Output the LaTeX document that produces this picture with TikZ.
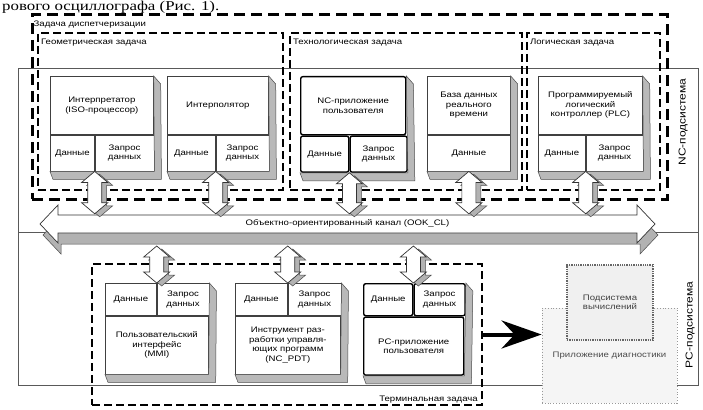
\documentclass[tikz,border=0pt]{standalone}
\usepackage{fontspec}
\setmainfont{Liberation Sans}[FakeStretch=1.2]
\newfontfamily\textserif{Liberation Serif}[FakeStretch=1.25]
\usetikzlibrary{arrows.meta,calc}

\newcommand{\boxfont}{\fontsize{8}{9.5}\selectfont}

% 3D depth under/right of a component box
\newcommand{\boxdepth}[3]{%
  \filldraw[depth] (#1.north east) -- ++(7,8) -- ([shift={(7,8)}]#3.south east)
    -- ([shift={(3,8)}]#2.south west) -- (#2.south west) -- (#3.south east) -- cycle;}

% double block arrow between a box and the channel
\newcommand{\vlink}[2]{%
  \filldraw[linkshade] let \p1=(#1), \p2=(#2) in
    (\x1+5pt,\y1-3pt) -- (\x1+18pt,\y1-14pt) -- (\x1+12pt,\y1-14pt) -- (\x1+12pt,\y2+8pt)
    -- (\x1+18pt,\y2+8pt) -- (\x1+5pt,\y2-3pt) -- (\x1-8pt,\y2+8pt) -- (\x1-2pt,\y2+8pt)
    -- (\x1-2pt,\y1-14pt) -- (\x1-8pt,\y1-14pt) -- cycle;
  \filldraw[linkface] let \p1=(#1), \p2=(#2) in
    (\x1,\y1) -- (\x1+13pt,\y1-11pt) -- (\x1+7pt,\y1-11pt) -- (\x1+7pt,\y2+11pt)
    -- (\x1+13pt,\y2+11pt) -- (\x1,\y2) -- (\x1-13pt,\y2+11pt) -- (\x1-7pt,\y2+11pt)
    -- (\x1-7pt,\y1-11pt) -- (\x1-13pt,\y1-11pt) -- cycle;}

\tikzset{
  dispatch/.style={draw, line width=3pt, dash pattern=on 11pt off 6pt},
  task/.style={draw, line width=2.2pt, dash pattern=on 8pt off 4pt},
  panel/.style={draw=black!65, line width=0.8pt, fill=white},
  face/.style={draw=black!75, line width=0.7pt, fill=white, align=center,
    inner sep=1pt, font=\boxfont, anchor=north west},
  appface/.style={face, draw=black, line width=1.4pt, rounded corners=2pt},
  depth/.style={fill=gray!55, draw=black!70, line width=0.5pt},
  tasklabel/.style={font=\boxfont, anchor=west, inner sep=1pt},
  sidelabel/.style={font=\fontsize{10}{12}\selectfont, rotate=90},
  linkshade/.style={fill=gray!60, draw=black!70, line width=0.5pt},
  linkface/.style={fill=white, draw=black!80, line width=0.7pt},
}

\begin{document}
\begin{tikzpicture}[x=1pt,y=-1pt]
\useasboundingbox (0,0) rectangle (703,409);
\node[font=\textserif\fontsize{13.5}{15}\selectfont, anchor=base west, inner sep=0pt] (caption) at (2,11) {рового осциллографа (Рис. 1).};

% subsystems
\draw[panel] (18,68) rectangle (698,232);
\draw[panel] (18,232) rectangle (698,385);
\node[sidelabel] (nclbl) at (683,122) {NC-подсистема};
\node[sidelabel] (pclbl) at (690,325) {PC-подсистема};

% tasks
\node[dispatch, minimum width=635pt, minimum height=184pt] (disp) at (349.5,107) {};
\node[task, minimum width=245pt, minimum height=157pt] (geom) at (160.5,111.5) {};
\node[task, minimum width=232pt, minimum height=157pt] (tech) at (406,111.5) {};
\node[task, minimum width=133pt, minimum height=157pt] (logic) at (593.5,111.5) {};
\node[tasklabel] (displbl) at ([shift={(2,11)}]disp.north west) {Задача диспетчеризации};
\node[tasklabel] (geomlbl) at ([shift={(3,11)}]geom.north west) {Геометрическая задача};
\node[tasklabel] (techlbl) at ([shift={(3,11)}]tech.north west) {Технологическая задача};
\node[tasklabel] (logiclbl) at ([shift={(3,11)}]logic.north west) {Логическая задача};

% NC components
\node[face, minimum width=103pt, minimum height=58pt] (interp) at (50,76) {Интерпретатор\\(ISO-процессор)};
\node[face, minimum width=44pt, minimum height=36pt] (interpD) at (interp.south west) {Данные};
\node[face, minimum width=59pt, minimum height=36pt] (interpQ) at (interpD.north east) {Запрос\\данных};
\boxdepth{interp}{interpD}{interpQ}

\node[face, minimum width=101pt, minimum height=58pt] (ipol) at (167,76) {Интерполятор};
\node[face, minimum width=48pt, minimum height=36pt] (ipolD) at (ipol.south west) {Данные};
\node[face, minimum width=53pt, minimum height=36pt] (ipolQ) at (ipolD.north east) {Запрос\\данных};
\boxdepth{ipol}{ipolD}{ipolQ}

\node[appface, minimum width=105pt, minimum height=58pt] (ncapp) at (300,76) {NC-приложение\\пользователя};
\node[appface, minimum width=48pt, minimum height=36pt] (ncappD) at (ncapp.south west) {Данные};
\node[appface, minimum width=57pt, minimum height=36pt] (ncappQ) at (ncappD.north east) {Запрос\\данных};
\boxdepth{ncapp}{ncappD}{ncappQ}

\node[face, minimum width=83pt, minimum height=58pt] (rtdb) at (427,76) {База данных\\реального\\времени};
\node[face, minimum width=83pt, minimum height=36pt] (rtdbD) at (rtdb.south west) {Данные};
\boxdepth{rtdb}{rtdbD}{rtdbD}

\node[face, minimum width=104pt, minimum height=58pt] (plc) at (538,76) {Программируемый\\логический\\контроллер (PLC)};
\node[face, minimum width=47pt, minimum height=36pt] (plcD) at (plc.south west) {Данные};
\node[face, minimum width=57pt, minimum height=36pt] (plcQ) at (plcD.north east) {Запрос\\данных};
\boxdepth{plc}{plcD}{plcQ}

% channel
\filldraw[fill=gray!60, draw=black!70, line width=0.5pt] (43,235) -- (61,216) -- (61,226) -- (640,226) -- (640,216)
  -- (658,235) -- (640,254) -- (640,244) -- (61,244) -- (61,254) -- cycle;
\filldraw[fill=white, draw=black!80, line width=0.7pt] (40,224) -- (58,205) -- (58,215) -- (637,215) -- (637,205)
  -- (655,224) -- (637,243) -- (637,233) -- (58,233) -- (58,243) -- cycle;
\node[font=\boxfont, minimum width=579pt, minimum height=18pt, inner sep=0pt] (bus) at (347.5,223) {Объектно-ориентированный канал (OOK\_CL)};
\coordinate (busfoot) at (347.5,246);

\vlink{interpQ.south west}{interpQ.south west |- bus.north}
\vlink{ipolQ.south west}{ipolQ.south west |- bus.north}
\vlink{ncappQ.south west}{ncappQ.south west |- bus.north}
\vlink{rtdbD.south}{rtdbD.south |- bus.north}
\vlink{plcQ.south west}{plcQ.south west |- bus.north}

% terminal task
\node[task, line width=2pt, minimum width=390pt, minimum height=141pt] (term) at (287,334.5) {};
\node[font=\boxfont, anchor=south east, inner sep=1pt] (termlbl) at ([shift={(-4,-2)}]term.south east) {Терминальная задача};

\node[face, minimum width=51pt, minimum height=32pt] (mmiD) at (105,283) {Данные};
\node[face, minimum width=52pt, minimum height=32pt] (mmiQ) at (mmiD.north east) {Запрос\\данных};
\node[face, minimum width=103pt, minimum height=58pt] (mmi) at (mmiD.south west) {Пользовательский\\интерфейс\\(MMI)};
\boxdepth{mmiQ}{mmi}{mmi}

\node[face, minimum width=52pt, minimum height=32pt] (pdtD) at (235,283) {Данные};
\node[face, minimum width=53pt, minimum height=32pt] (pdtQ) at (pdtD.north east) {Запрос\\данных};
\node[face, minimum width=105pt, minimum height=58pt] (pdt) at (pdtD.south west) {Инструмент раз-\\работки управля-\\ющих программ\\(NC\_PDT)};
\boxdepth{pdtQ}{pdt}{pdt}

\node[appface, minimum width=49pt, minimum height=32pt] (pcappD) at (363,283) {Данные};
\node[appface, minimum width=51pt, minimum height=32pt] (pcappQ) at (pcappD.north east) {Запрос\\данных};
\node[appface, minimum width=100pt, minimum height=58pt] (pcapp) at (pcappD.south west) {PC-приложение\\пользователя};
\boxdepth{pcappQ}{pcapp}{pcapp}

\vlink{mmiQ.north west |- busfoot}{mmiQ.north west}
\vlink{pdtQ.north west |- busfoot}{pdtQ.north west}
\vlink{pcappQ.north west |- busfoot}{pcappQ.north west}

% PC subsystem
\node[draw=gray!80, dotted, line width=0.8pt, fill=gray!8, minimum width=135pt, minimum height=95pt,
  font=\boxfont, text=black!70] (diag) at (609.5,355.5) {Приложение диагностики};
\node[draw=black!60, densely dotted, line width=1.3pt, fill=gray!12, minimum width=86pt, minimum height=75pt,
  align=center, font=\boxfont, text=black!75] (compsys) at (610,302.5) {Подсистема\\вычислений};
\draw[line width=4pt, -{Stealth[length=40pt,width=28pt]}] (term.east) -- (term.east -| diag.west);
\end{tikzpicture}
\end{document}
